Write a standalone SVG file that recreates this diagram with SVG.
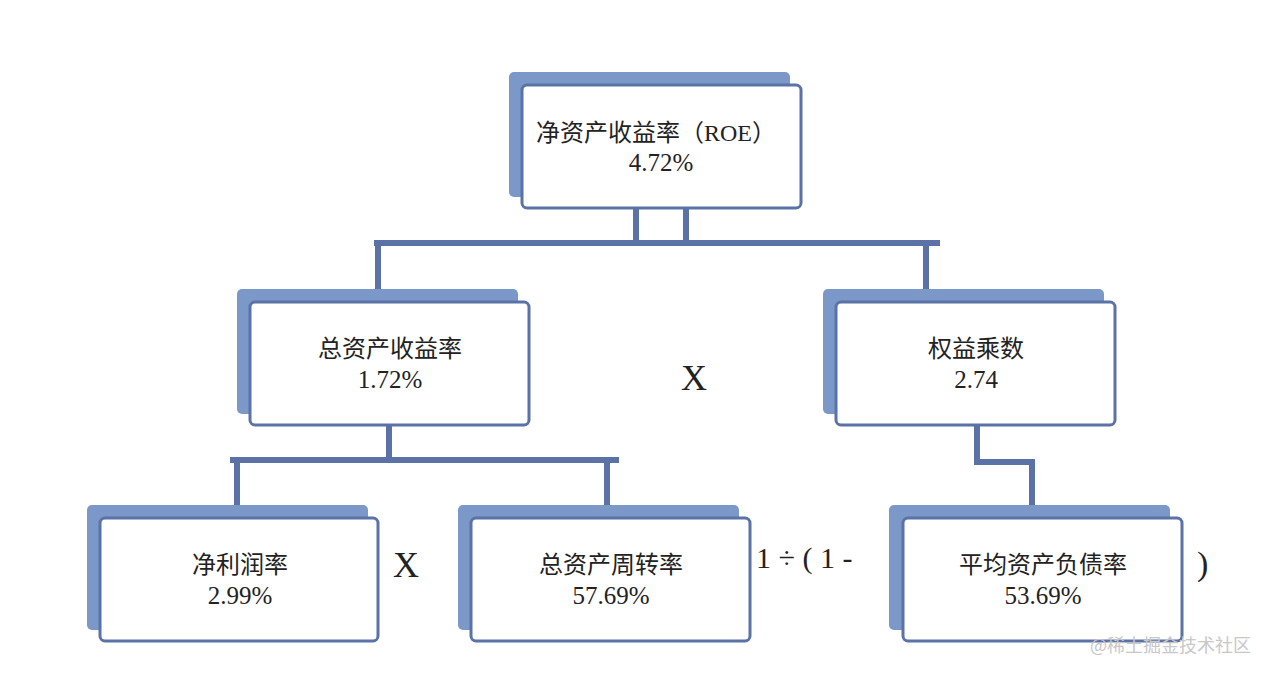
<svg xmlns="http://www.w3.org/2000/svg" width="1270" height="677" viewBox="0 0 1270 677">
<style>
.back{fill:#7b98c8;}
.front{fill:#ffffff;stroke:#5a72a6;stroke-width:3;}
.conn{stroke:#5a72a6;stroke-width:6;fill:none;}
.t{font-family:"Liberation Serif","Noto Sans CJK SC",serif;font-size:24px;fill:#222;text-anchor:middle;}
.n{font-size:25px;}
.op{font-family:"Liberation Serif",serif;fill:#222;}
.wm{font-family:"Noto Sans CJK SC",sans-serif;font-size:18px;fill:#c8c8c8;}
</style>
<rect width="1270" height="677" fill="#ffffff"/>
<g id="connectors">
<path class="conn" d="M636,208 V243 M686,208 V243 M374,243 H940 M378,243 V290 M926,243 V290"/>
<path class="conn" d="M389,426 V460 M230,460 H619 M237,460 V505 M607,460 V505"/>
<path class="conn" d="M977,426 V462 H1032 V505"/>
</g>
<g id="node-roe">
<rect class="back" x="509" y="72" width="281" height="125" rx="5"/>
<rect class="front" x="522" y="85" width="279" height="123" rx="5"/>
<text class="t" x="656" y="141">净资产收益率（ROE）</text>
<text class="t n" x="661" y="171">4.72%</text>
</g>
<g id="node-roa">
<rect class="back" x="237" y="289" width="281" height="125" rx="5"/>
<rect class="front" x="250" y="302" width="279" height="123" rx="5"/>
<text class="t" x="390" y="357">总资产收益率</text>
<text class="t n" x="390" y="388">1.72%</text>
</g>
<g id="node-em">
<rect class="back" x="823" y="289" width="281" height="125" rx="5"/>
<rect class="front" x="836" y="302" width="279" height="123" rx="5"/>
<text class="t" x="976" y="357">权益乘数</text>
<text class="t n" x="976" y="388">2.74</text>
</g>
<g id="node-npm">
<rect class="back" x="87" y="505" width="281" height="125" rx="5"/>
<rect class="front" x="100" y="518" width="278" height="123" rx="5"/>
<text class="t" x="240" y="573">净利润率</text>
<text class="t n" x="240" y="604">2.99%</text>
</g>
<g id="node-tat">
<rect class="back" x="458" y="505" width="281" height="125" rx="5"/>
<rect class="front" x="471" y="518" width="279" height="123" rx="5"/>
<text class="t" x="611" y="573">总资产周转率</text>
<text class="t n" x="611" y="604">57.69%</text>
</g>
<g id="node-dar">
<rect class="back" x="889" y="505" width="281" height="125" rx="5"/>
<rect class="front" x="903" y="518" width="279" height="123" rx="5"/>
<text class="t" x="1043" y="573">平均资产负债率</text>
<text class="t n" x="1043" y="604">53.69%</text>
</g>
<g id="operators">
<text class="op" x="694" y="390" font-size="36" text-anchor="middle">X</text>
<text class="op" x="406" y="577" font-size="36" text-anchor="middle">X</text>
<text class="op" x="756" y="568" font-size="30">1 ÷ ( 1 -</text>
<text class="op" x="1197" y="575" font-size="34">)</text>
</g>
<text class="wm" x="1090" y="652">@稀土掘金技术社区</text>
</svg>
